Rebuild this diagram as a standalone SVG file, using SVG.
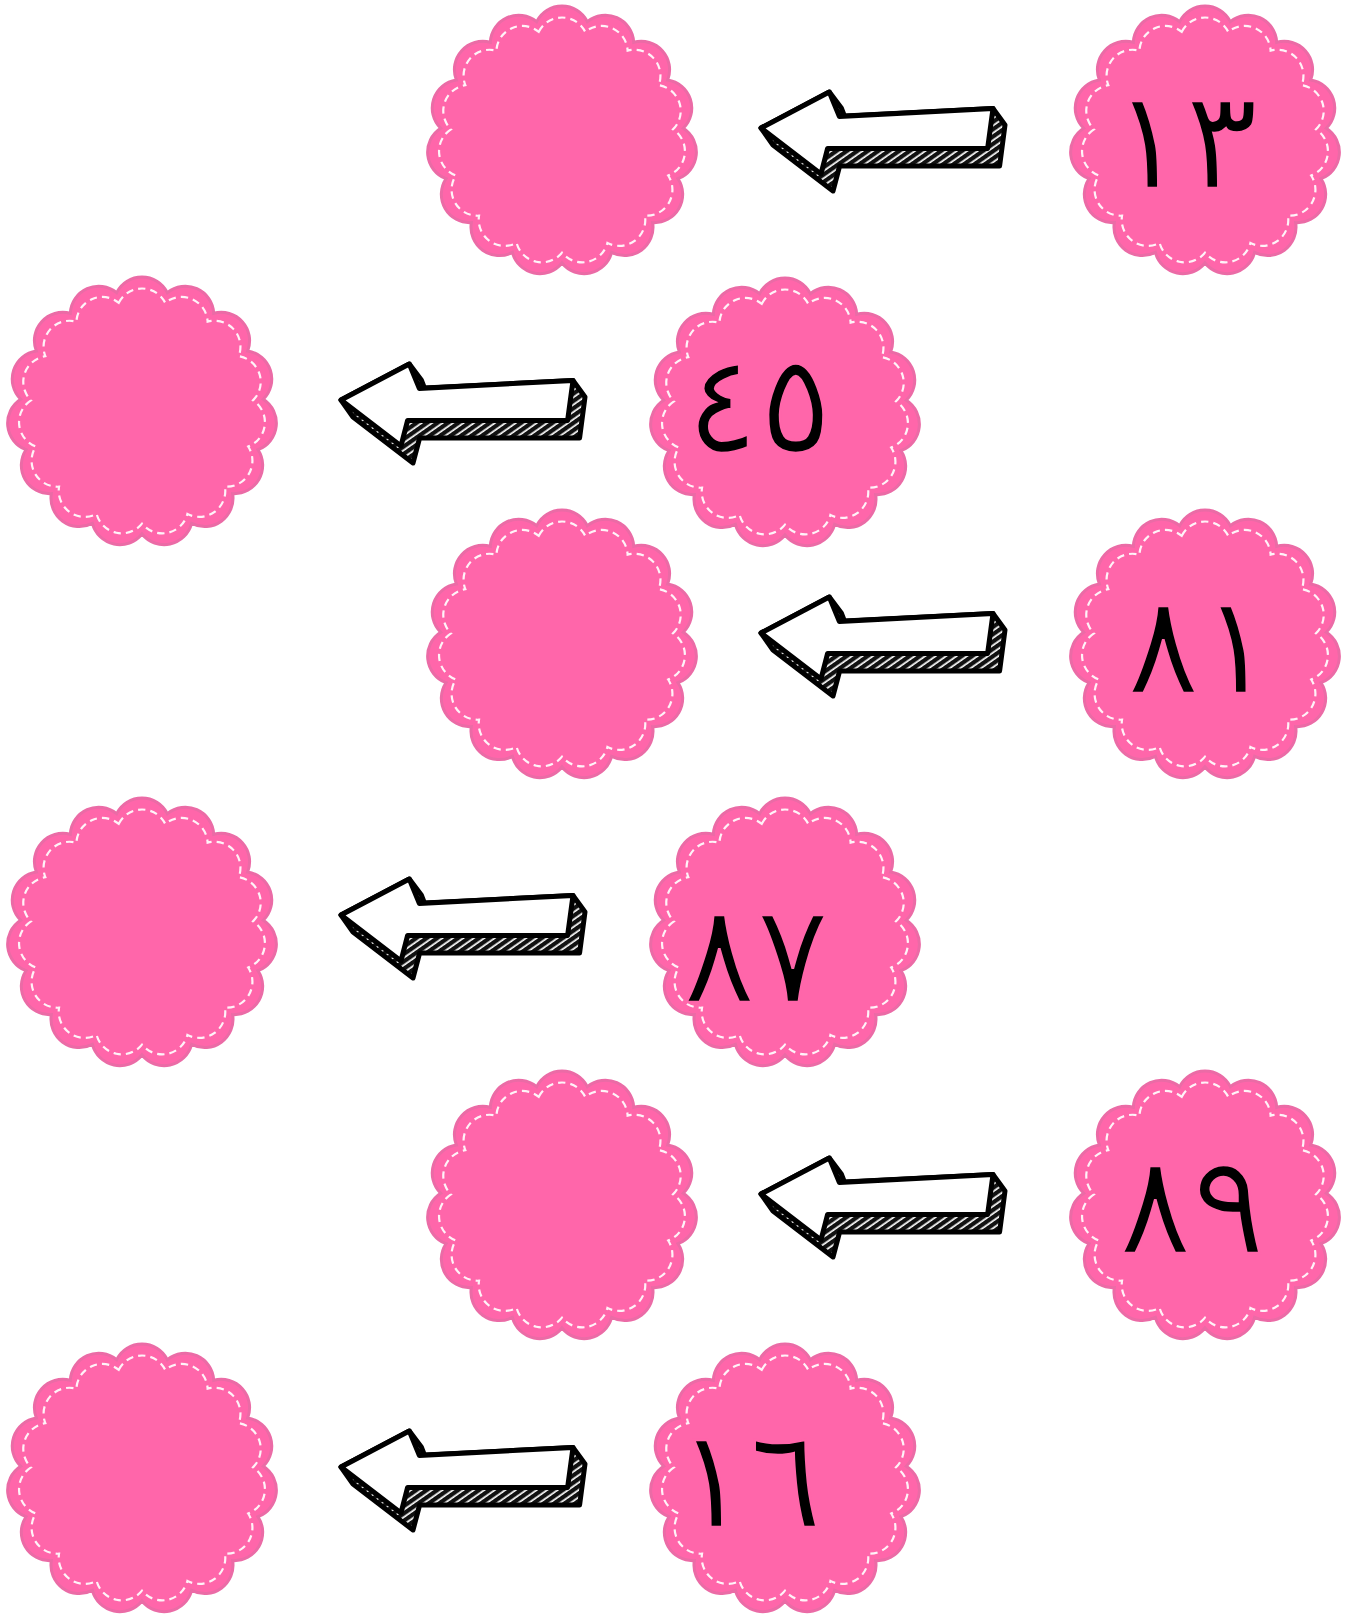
<svg xmlns="http://www.w3.org/2000/svg" xmlns:xlink="http://www.w3.org/1999/xlink" width="1356" height="1614" viewBox="0 0 1356 1614">
<style>
.fill{fill:#FF66AA;stroke:#EB6BA6;stroke-width:3}
.stitch{fill:none;stroke:#FFFFFF;stroke-width:2.4;stroke-dasharray:8 5.5;opacity:0.92}
.num{font-family:"DejaVu Sans",sans-serif;font-size:137px;fill:#000;stroke:#FF66AA;stroke-width:2.6;text-anchor:middle}
.side{fill:url(#hatch);stroke:#000;stroke-width:5;stroke-linejoin:round}
.face{fill:#fff;stroke:#000;stroke-width:5;stroke-linejoin:round}
</style>
<defs>
<path id="scallop" d="M-25.37,-119.33 A28.4,28.4 0 0 1 25.37,-119.33 A28.4,28.4 0 0 1 71.71,-98.70 A28.4,28.4 0 0 1 105.66,-61 A28.4,28.4 0 0 1 121.33,-12.75 A28.4,28.4 0 0 1 116.03,37.70 A28.4,28.4 0 0 1 90.66,81.63 A28.4,28.4 0 0 1 49.62,111.45 A28.4,28.4 0 0 1 0,122 A28.4,28.4 0 0 1 -49.62,111.45 A28.4,28.4 0 0 1 -90.66,81.63 A28.4,28.4 0 0 1 -116.03,37.70 A28.4,28.4 0 0 1 -121.33,-12.75 A28.4,28.4 0 0 1 -105.66,-61 A28.4,28.4 0 0 1 -71.71,-98.70 A28.4,28.4 0 0 1 -25.37,-119.33 Z"/>
<g id="flower">
<use xlink:href="#scallop" href="#scallop" class="fill"/>
<use xlink:href="#scallop" href="#scallop" class="stitch" transform="scale(0.915)"/>
</g>
<pattern id="hatch" patternUnits="userSpaceOnUse" width="6" height="6" patternTransform="rotate(55)">
<rect width="6" height="6" fill="#fff"/>
<rect width="4.3" height="6" fill="#111"/>
</pattern>
<g id="arrow">
<path class="side" d="M0,0 L68.3,-36 L80.3,-20 L83.5,-11.9 L232,-19.5 L244,-3 L238.6,38 L78.6,38 L72,63 L12,17 Z"/>
<path class="face" d="M0,0 L68.3,-36 L78.3,-11.6 L232,-19.5 L226.6,20.5 L66.6,20.5 L60,46 Z"/>
</g>
</defs>
<g id="connectors">
<use xlink:href="#arrow" href="#arrow" transform="translate(761,128)"/>
<use xlink:href="#arrow" href="#arrow" transform="translate(341,400)"/>
<use xlink:href="#arrow" href="#arrow" transform="translate(761,633)"/>
<use xlink:href="#arrow" href="#arrow" transform="translate(341,915)"/>
<use xlink:href="#arrow" href="#arrow" transform="translate(761,1194)"/>
<use xlink:href="#arrow" href="#arrow" transform="translate(341,1467)"/>
</g>
<g id="n13"><use xlink:href="#flower" href="#flower" transform="translate(1205,141)"/><text class="num" x="1185" y="188">١٣</text></g>
<g id="a1"><use xlink:href="#flower" href="#flower" transform="translate(562,141)"/></g>
<g id="n45"><use xlink:href="#flower" href="#flower" transform="translate(785,413)"/><text class="num" x="759" y="452">٤٥</text></g>
<g id="a2"><use xlink:href="#flower" href="#flower" transform="translate(142,412)"/></g>
<g id="n81"><use xlink:href="#flower" href="#flower" transform="translate(1205,645)"/><text class="num" x="1200" y="693">٨١</text></g>
<g id="a3"><use xlink:href="#flower" href="#flower" transform="translate(562,645)"/></g>
<g id="n87"><use xlink:href="#flower" href="#flower" transform="translate(785,933)"/><text class="num" x="756" y="1002">٨٧</text></g>
<g id="a4"><use xlink:href="#flower" href="#flower" transform="translate(142,933)"/></g>
<g id="n89"><use xlink:href="#flower" href="#flower" transform="translate(1205,1206)"/><text class="num" x="1192" y="1253">٨٩</text></g>
<g id="a5"><use xlink:href="#flower" href="#flower" transform="translate(562,1206)"/></g>
<g id="n16"><use xlink:href="#flower" href="#flower" transform="translate(785,1479)"/><text class="num" x="749" y="1527">١٦</text></g>
<g id="a6"><use xlink:href="#flower" href="#flower" transform="translate(142,1479)"/></g>
</svg>
